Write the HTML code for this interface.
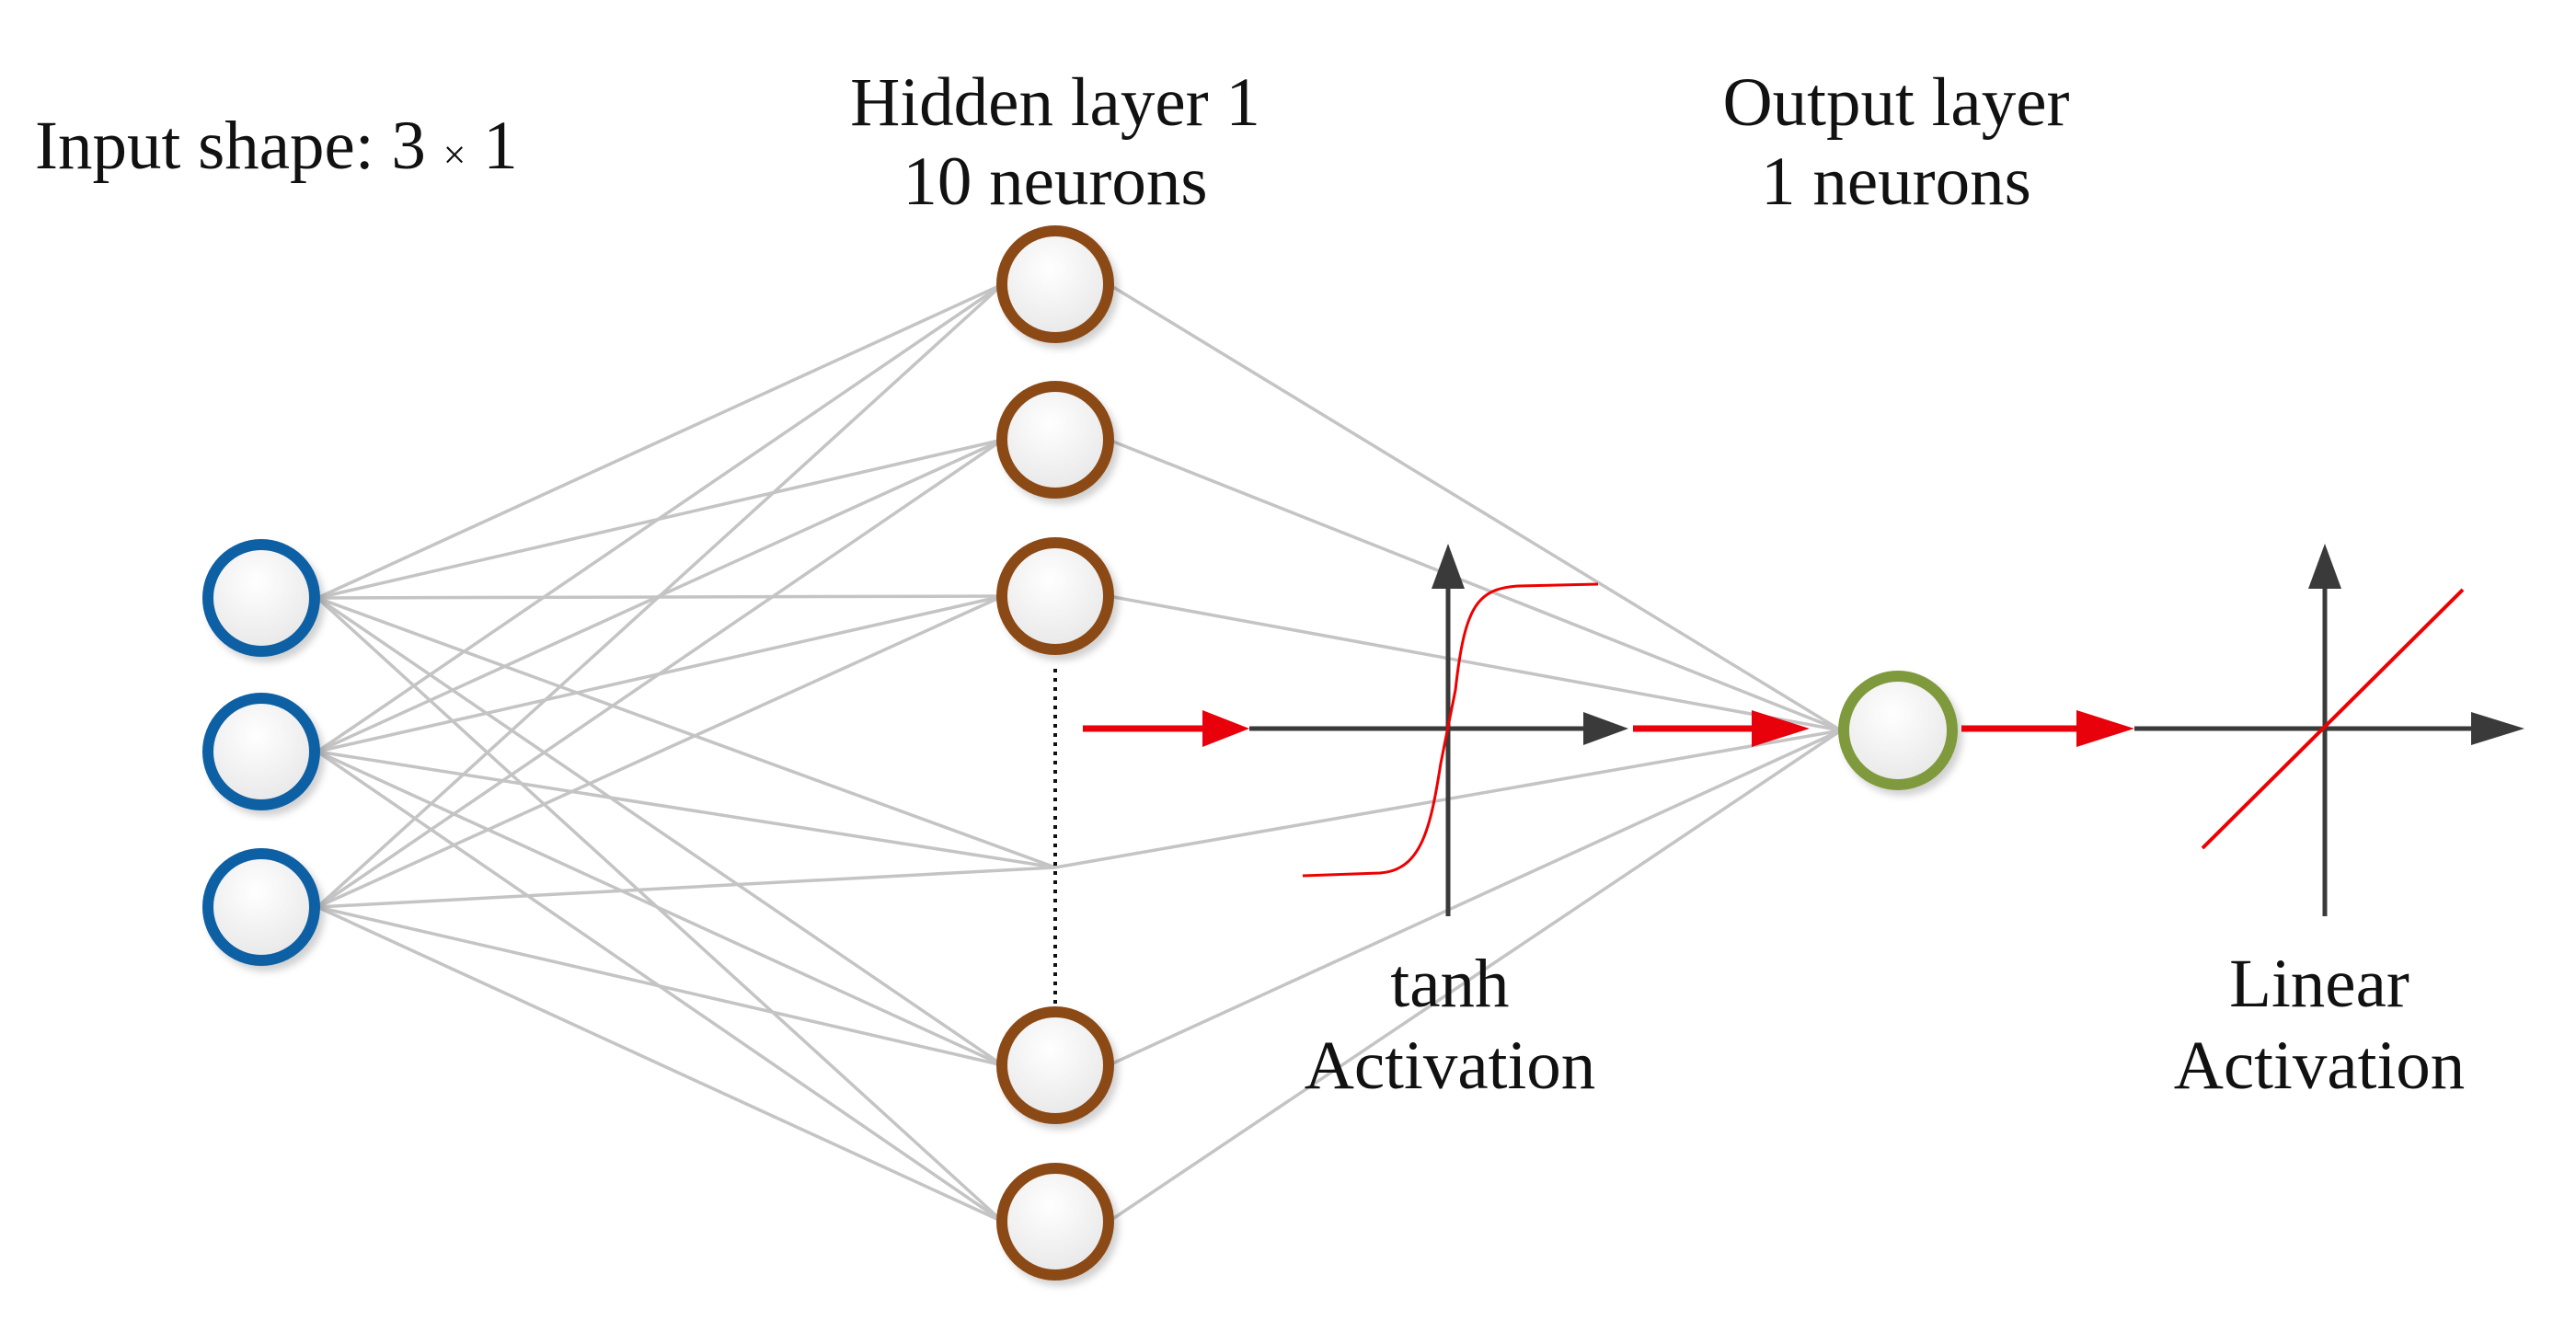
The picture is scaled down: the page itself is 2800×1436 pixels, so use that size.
<!DOCTYPE html>
<html><head><meta charset="utf-8"><style>
html,body{margin:0;padding:0;background:#fff;}
svg{display:block;}
text{font-family:"Liberation Serif",serif;font-size:75px;fill:#111;}
</style></head><body>
<svg width="2800" height="1436" viewBox="0 0 2800 1436" xmlns="http://www.w3.org/2000/svg">
<defs>
<radialGradient id="g" cx="0.45" cy="0.35" r="0.7">
<stop offset="0" stop-color="#ffffff"/><stop offset="1" stop-color="#e6e6e6"/>
</radialGradient>
<filter id="sh" x="-30%" y="-30%" width="160%" height="160%"><feDropShadow dx="5" dy="6" stdDeviation="4" flood-color="#000" flood-opacity="0.18"/></filter>
</defs>
<g stroke="#c4c4c4" stroke-width="3.5" fill="none">
<line x1="345" y1="650" x2="1090" y2="309"/><line x1="345" y1="650" x2="1090" y2="478"/><line x1="345" y1="650" x2="1090" y2="648"/><line x1="345" y1="650" x2="1147" y2="943"/><line x1="345" y1="650" x2="1090" y2="1158"/><line x1="345" y1="650" x2="1090" y2="1328"/>
<line x1="345" y1="817" x2="1090" y2="309"/><line x1="345" y1="817" x2="1090" y2="478"/><line x1="345" y1="817" x2="1090" y2="648"/><line x1="345" y1="817" x2="1147" y2="943"/><line x1="345" y1="817" x2="1090" y2="1158"/><line x1="345" y1="817" x2="1090" y2="1328"/>
<line x1="345" y1="986" x2="1090" y2="309"/><line x1="345" y1="986" x2="1090" y2="478"/><line x1="345" y1="986" x2="1090" y2="648"/><line x1="345" y1="986" x2="1147" y2="943"/><line x1="345" y1="986" x2="1090" y2="1158"/><line x1="345" y1="986" x2="1090" y2="1328"/>
<line x1="1205" y1="309" x2="2001" y2="794"/><line x1="1205" y1="478" x2="2001" y2="794"/><line x1="1205" y1="648" x2="2001" y2="794"/><line x1="1147" y1="943" x2="2001" y2="794"/><line x1="1205" y1="1158" x2="2001" y2="794"/><line x1="1205" y1="1328" x2="2001" y2="794"/>
</g>
<line x1="1147" y1="727" x2="1147" y2="1092" stroke="#111" stroke-width="4" stroke-dasharray="4,6"/>
<g filter="url(#sh)" fill="url(#g)" stroke-width="12">
<circle cx="284" cy="650" r="58" stroke="#1060a4"/><circle cx="284" cy="817" r="58" stroke="#1060a4"/><circle cx="284" cy="986" r="58" stroke="#1060a4"/>
<circle cx="1147" cy="309" r="58" stroke="#8b4a17"/><circle cx="1147" cy="478" r="58" stroke="#8b4a17"/><circle cx="1147" cy="648" r="58" stroke="#8b4a17"/><circle cx="1147" cy="1158" r="58" stroke="#8b4a17"/><circle cx="1147" cy="1328" r="58" stroke="#8b4a17"/>
<circle cx="2063" cy="794" r="59" stroke="#7f9a3e"/>
</g>
<g stroke="#3a3a3a" stroke-width="5">
<line x1="1358" y1="792" x2="1725" y2="792"/><line x1="1574" y1="620" x2="1574" y2="996"/>
<line x1="2320" y1="792" x2="2690" y2="792"/><line x1="2527" y1="620" x2="2527" y2="996"/>
</g>
<g fill="#3a3a3a">
<polygon points="1721,774 1770,792 1721,810"/><polygon points="1556,640 1574,591 1592,640"/>
<polygon points="2686,774 2744,792 2686,810"/><polygon points="2509,640 2527,591 2545,640"/>
</g>
<path d="M1416,952 L1500,949 C1545,946 1555,900 1566,830 L1582,750 C1592,660 1605,640 1650,637 L1737,635" stroke="#e00" stroke-width="3" fill="none"/>
<line x1="2394" y1="922" x2="2677" y2="641" stroke="#e00" stroke-width="4"/>
<g stroke="#e8000a" stroke-width="7"><line x1="1177" y1="792" x2="1310" y2="792"/><line x1="1775" y1="792" x2="1906" y2="792"/><line x1="2132" y1="792" x2="2260" y2="792"/></g>
<g fill="#e8000a"><polygon points="1307,772 1358,792 1307,812"/><polygon points="1904,772 1967,792 1904,812"/><polygon points="2257,772 2320,792 2257,812"/></g>
<text x="38" y="183">Input shape: 3 <tspan font-size="44">×</tspan> 1</text>
<text x="1147" y="136" text-anchor="middle">Hidden layer 1</text>
<text x="1147" y="222" text-anchor="middle">10 neurons</text>
<text x="2061" y="136" text-anchor="middle">Output layer</text>
<text x="2061" y="222" text-anchor="middle">1 neurons</text>
<text x="1576" y="1094" text-anchor="middle">tanh</text>
<text x="1576" y="1183" text-anchor="middle">Activation</text>
<text x="2521" y="1094" text-anchor="middle">Linear</text>
<text x="2521" y="1183" text-anchor="middle">Activation</text>
</svg>
</body></html>
